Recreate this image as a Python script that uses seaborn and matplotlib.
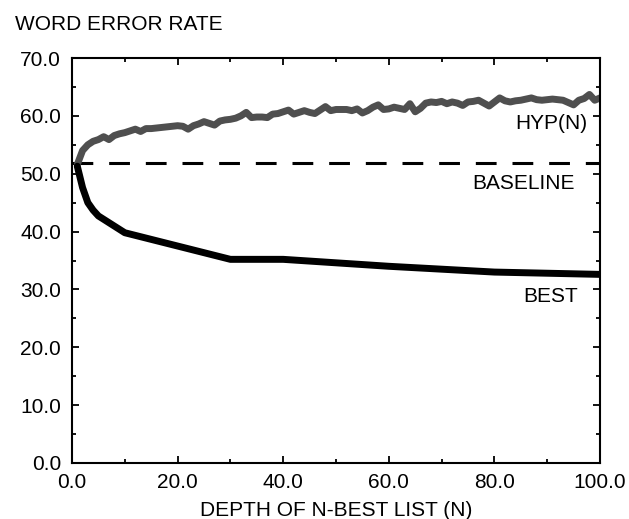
import numpy as np
import pandas as pd
import seaborn as sns
import matplotlib
matplotlib.use('Agg')
import matplotlib.pyplot as plt
from matplotlib.ticker import MultipleLocator, FormatStrFormatter

# глубина списка N-best и ошибки по каждому N
hyp_n = list(range(1, 101))
hyp_wer = [51.6, 54.0, 55.0, 55.6, 55.9, 56.4, 55.9, 56.6, 56.9, 57.1,
           57.4, 57.7, 57.3, 57.8, 57.8, 57.9, 58.0, 58.1, 58.2, 58.3,
           58.2, 57.7, 58.3, 58.6, 59.0, 58.7, 58.4, 59.1, 59.3, 59.4,
           59.6, 60.0, 60.6, 59.7, 59.8, 59.8, 59.7, 60.3, 60.4, 60.7,
           61.0, 60.3, 60.6, 60.9, 60.6, 60.4, 61.0, 61.6, 60.9, 61.1,
           61.1, 61.1, 60.9, 61.2, 60.5, 60.9, 61.5, 61.9, 61.1, 61.2,
           61.5, 61.3, 61.1, 62.1, 60.7, 61.3, 62.2, 62.4, 62.3, 62.5,
           62.1, 62.4, 62.2, 61.8, 62.4, 62.5, 62.7, 62.2, 61.7, 62.4,
           63.1, 62.6, 62.4, 62.6, 62.7, 62.9, 63.1, 62.8, 62.7, 62.8,
           62.9, 62.8, 62.7, 62.3, 61.9, 62.7, 63.0, 63.7, 62.7, 63.1]

best_n = [1, 2, 3, 4, 5, 10, 30, 40, 50, 60, 70, 80, 90, 100]
best_wer = [51.3, 47.6, 45.0, 43.7, 42.7, 39.8, 35.2, 35.2, 34.6, 34.0, 33.5, 33.0, 32.8, 32.6]

baseline_n = [0, 100]
baseline_wer = [51.8, 51.8]

sns.set_style('ticks')
plt.rcParams['font.family'] = ['Liberation Sans', 'DejaVu Sans']
plt.rcParams['font.size'] = 15
plt.rcParams['text.color'] = 'black'
plt.rcParams['axes.labelcolor'] = 'black'

fig, ax = plt.subplots(figsize=(6.29, 5.19), dpi=100)
fig.subplots_adjust(left=72 / 629, right=600 / 629, bottom=1 - 463 / 519, top=1 - 58 / 519)

hyp = pd.DataFrame({'n': hyp_n, 'wer': hyp_wer})
best = pd.DataFrame({'n': best_n, 'wer': best_wer})
base = pd.DataFrame({'n': baseline_n, 'wer': baseline_wer})

sns.lineplot(data=base, x='n', y='wer', ax=ax, color='black', linewidth=2.2, dashes=False,
             linestyle=(0, (6.8, 5.2)))
sns.lineplot(data=hyp, x='n', y='wer', ax=ax, color='#4f4f4f', linewidth=5)
sns.lineplot(data=best, x='n', y='wer', ax=ax, color='black', linewidth=5)

ax.text(97.6, 58.6, 'HYP(N)', ha='right', va='center', fontsize=15)
ax.text(95.3, 48.3, 'BASELINE', ha='right', va='center', fontsize=15)
ax.text(95.8, 28.7, 'BEST', ha='right', va='center', fontsize=15)

ax.set_xlim(0, 100)
ax.set_ylim(0, 70)
ax.xaxis.set_major_locator(MultipleLocator(20))
ax.xaxis.set_minor_locator(MultipleLocator(10))
ax.yaxis.set_major_locator(MultipleLocator(10))
ax.yaxis.set_minor_locator(MultipleLocator(5))
ax.xaxis.set_major_formatter(FormatStrFormatter('%.1f'))
ax.yaxis.set_major_formatter(FormatStrFormatter('%.1f'))
ax.tick_params(which='both', direction='in', top=True, right=True, width=1.3, colors='black',
               labelsize=15)
ax.tick_params(which='major', length=5)
ax.tick_params(axis='x', which='major', pad=7)
ax.tick_params(axis='y', which='major', pad=8)
ax.tick_params(which='minor', length=3)
for s in ax.spines.values():
    s.set_linewidth(1.5)
    s.set_color('black')

ax.set_xlabel('DEPTH OF N-BEST LIST (N)', fontsize=15, labelpad=7)
ax.set_ylabel('')
fig.text(15 / 629, 1 - 25 / 519, 'WORD ERROR RATE', ha='left', va='center', fontsize=15)

fig.savefig('out.png', dpi=100)
